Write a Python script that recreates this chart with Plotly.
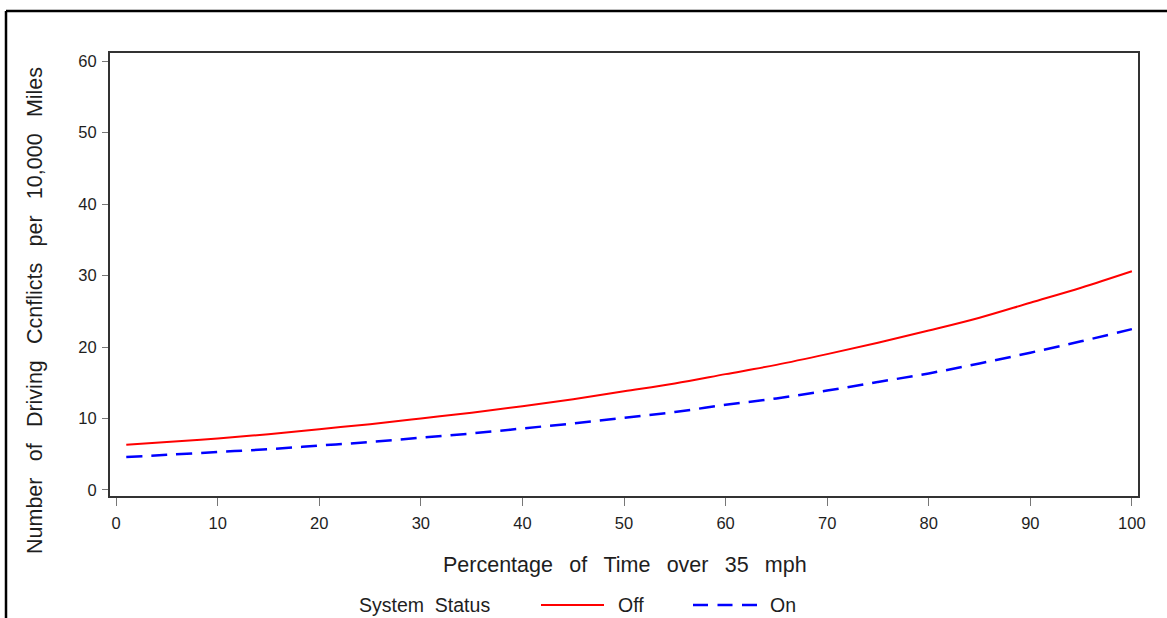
import plotly.graph_objects as go

# Percentage of time spent above 35 mph
pct_time = [1, 5, 10, 15, 20, 25, 30, 35, 40, 45, 50, 55, 60, 65, 70, 75, 80, 85, 90, 95, 100]

# Predicted driving conflicts per 10,000 miles by system status
conflicts_off = [6.3, 6.7, 7.2, 7.8, 8.5, 9.2, 10.0, 10.8, 11.7, 12.7, 13.8, 14.9, 16.2, 17.5,
                 19.0, 20.6, 22.3, 24.1, 26.2, 28.3, 30.6]
conflicts_on = [4.6, 4.9, 5.3, 5.7, 6.2, 6.7, 7.3, 7.9, 8.6, 9.3, 10.1, 10.9, 11.9, 12.8,
                13.9, 15.1, 16.3, 17.7, 19.2, 20.8, 22.5]

x_ticks = [0, 10, 20, 30, 40, 50, 60, 70, 80, 90, 100]
y_ticks = [0, 10, 20, 30, 40, 50, 60]

W, H = 1167, 618
L, R, T, B = 109, 1139, 52, 497
FONT = "Liberation Sans, Arial, Helvetica, sans-serif"
TXT = "#1e1e1e"


def px(xp):
    return (xp - L) / (R - L)


def py(yp):
    return (B - yp) / (B - T)


def spaced(text, gap):
    """Join words with a wider-than-normal gap."""
    return gap.join(text.split(" "))


WIDE = "\u00a0\u00a0\u2009"

fig = go.Figure()
fig.add_trace(go.Scatter(x=pct_time, y=conflicts_off, mode="lines", name="Off",
                         line=dict(color="#ff0000", width=2), line_shape="spline"))
fig.add_trace(go.Scatter(x=pct_time, y=conflicts_on, mode="lines", name="On",
                         line=dict(color="#0000ff", width=2.5, dash="16px,9px"),
                         line_shape="spline"))

shapes = [
    # plot frame
    dict(type="rect", xref="paper", yref="paper", x0=0, x1=1, y0=0, y1=1,
         line=dict(color="#333333", width=2), layer="above"),
    # outer border (top and left)
    dict(type="line", xref="paper", yref="paper", x0=px(6), x1=px(1170), y0=py(11), y1=py(11),
         line=dict(color="black", width=2.5)),
    dict(type="line", xref="paper", yref="paper", x0=px(6), x1=px(6), y0=py(11), y1=py(622),
         line=dict(color="black", width=2.5)),
    # legend samples
    dict(type="line", xref="paper", yref="paper", x0=px(541), x1=px(604), y0=py(605), y1=py(605),
         line=dict(color="#ff0000", width=2)),
    dict(type="line", xref="paper", yref="paper", x0=px(693), x1=px(757), y0=py(605), y1=py(605),
         line=dict(color="#0000ff", width=2.5, dash="15px,9.5px")),
]

annotations = [
    dict(text=spaced("Percentage of Time over 35 mph", WIDE), xref="paper", yref="paper",
         x=px(625), y=py(565), showarrow=False, xanchor="center", yanchor="middle",
         font=dict(family=FONT, size=21.5, color=TXT)),
    dict(text=spaced("Number of Driving Ccnflicts per 10,000 Miles", WIDE), xref="paper",
         yref="paper", x=px(35), y=py(311), showarrow=False, xanchor="center",
         yanchor="middle", textangle=-90, font=dict(family=FONT, size=21.5, color=TXT)),
    dict(text=spaced("System Status", "\u00a0\u00a0"), xref="paper", yref="paper",
         x=px(357), y=py(605), showarrow=False, xanchor="left", yanchor="middle",
         font=dict(family=FONT, size=19.5, color=TXT)),
    dict(text="Off", xref="paper", yref="paper",
         x=px(616), y=py(605), showarrow=False, xanchor="left", yanchor="middle",
         font=dict(family=FONT, size=19.5, color=TXT)),
    dict(text="On", xref="paper", yref="paper",
         x=px(768), y=py(605), showarrow=False, xanchor="left", yanchor="middle",
         font=dict(family=FONT, size=19.5, color=TXT)),
]

fig.update_layout(
    width=W, height=H,
    margin=dict(l=L, r=W - R, t=T, b=H - B, pad=0),
    paper_bgcolor="white", plot_bgcolor="white",
    showlegend=False,
    shapes=shapes, annotations=annotations,
    font=dict(family=FONT, color=TXT),
)
fig.update_xaxes(range=[-0.7, 100.7], tickvals=x_ticks, ticks="outside", ticklen=8,
                 tickcolor="#777777", tickwidth=1, showgrid=False, zeroline=False,
                 showline=False, ticklabelstandoff=3,
                 tickfont=dict(family=FONT, size=16.5, color=TXT))
fig.update_yaxes(range=[-1.0, 61.3], tickvals=y_ticks, ticks="outside", ticklen=6,
                 tickcolor="#777777", tickwidth=1, showgrid=False, zeroline=False,
                 showline=False, ticklabelstandoff=2,
                 tickfont=dict(family=FONT, size=16.5, color=TXT))

fig.write_html("out.html")
